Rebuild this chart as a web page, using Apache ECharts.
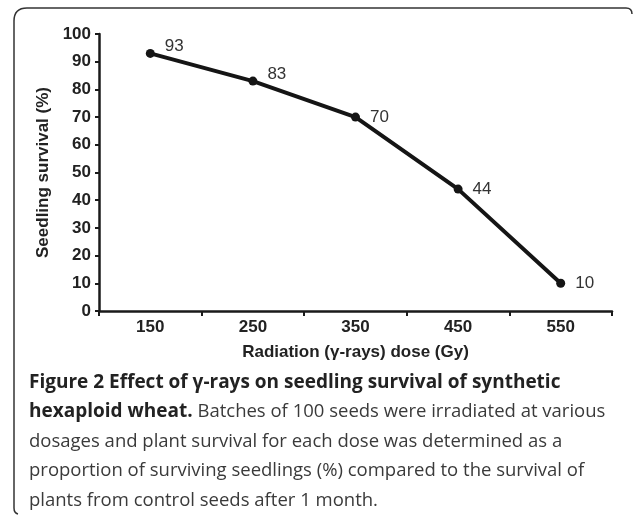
<!DOCTYPE html>
<html>
<head>
<meta charset="utf-8">
<script src="https://cdn.jsdelivr.net/npm/echarts@6/dist/echarts.min.js"></script>
<style>
  html, body { margin: 0; padding: 0; background: #fff; }
  #chart { width: 633px; height: 516px; }
</style>
</head>
<body>
<div id="chart"></div>
<script>
// dose categories and survival values
var doses = ['150', '250', '350', '450', '550'];
var survival = [93, 83, 70, 44, 10];
var yTicks = { min: 0, max: 100, interval: 10 };

var captionLines = [
    '{b|Figure 2 Effect of γ-rays on seedling survival of synthetic}',
    '{b|hexaploid wheat.} Batches of 100 seeds were irradiated at various',
    'dosages and plant survival for each dose was determined as a',
    'proportion of surviving seedlings (%) compared to the survival of',
    'plants from control seeds after 1 month.'
];

var myChart = echarts.init(document.getElementById('chart'));

// first two labels sit a little above the line
var seriesData = survival.map(function (v, i) {
    return {
        value: v,
        label: { offset: i < 2 ? [0, -7] : [0, 0] }
    };
});

var captionGraphics = captionLines.map(function (line, i) {
    return {
        type: 'text',
        left: 29,
        top: 373 + i * 29.5,
        style: {
            text: line,
            font: '18.5px "Open Sans"',
            fill: '#3a3a3a',
            rich: {
                b: {
                    fontFamily: 'Open Sans',
                    fontSize: 19,
                    fontWeight: 'bold',
                    fill: '#222'
                }
            }
        }
    };
});

// frame round the figure: top and left edges with rounded corners
var frameStyle = { fill: 'none', stroke: '#333', lineWidth: 1.5 };
var frame = [
    { type: 'line', shape: { x1: 27, y1: 8, x2: 626, y2: 8 }, style: frameStyle },
    { type: 'line', shape: { x1: 14, y1: 21, x2: 14, y2: 508 }, style: frameStyle },
    { type: 'bezierCurve', shape: { x1: 14, y1: 21, cpx1: 14, cpy1: 8, x2: 27, y2: 8 }, style: frameStyle },
    { type: 'bezierCurve', shape: { x1: 626, y1: 8, cpx1: 632, cpy1: 8, x2: 632, y2: 14 }, style: frameStyle },
    { type: 'bezierCurve', shape: { x1: 14, y1: 508, cpx1: 14, cpy1: 513, x2: 18, y2: 514 }, style: frameStyle }
];

var option = {
    animation: false,
    grid: {
        left: 99,
        right: 21,
        top: 34,
        bottom: 205
    },
    xAxis: {
        type: 'category',
        data: doses,
        name: 'Radiation (γ-rays) dose (Gy)',
        nameLocation: 'middle',
        nameGap: 33,
        nameTextStyle: {
            fontFamily: 'Liberation Sans',
            fontWeight: 'bold',
            fontSize: 17,
            color: '#222'
        },
        axisLine: { lineStyle: { color: '#1a1a1a', width: 2.5 } },
        axisTick: { show: true, length: 5, lineStyle: { color: '#1a1a1a', width: 2 } },
        axisLabel: {
            margin: 8,
            fontFamily: 'Liberation Sans',
            fontWeight: 'bold',
            fontSize: 17,
            color: '#222'
        },
        splitLine: { show: false }
    },
    yAxis: {
        type: 'value',
        min: yTicks.min,
        max: yTicks.max,
        interval: yTicks.interval,
        name: 'Seedling survival (%)',
        nameLocation: 'middle',
        nameGap: 45,
        nameTextStyle: {
            fontFamily: 'Liberation Sans',
            fontWeight: 'bold',
            fontSize: 17,
            color: '#222'
        },
        axisLine: { show: true, lineStyle: { color: '#1a1a1a', width: 2.5 } },
        axisTick: { show: true, length: 4, lineStyle: { color: '#1a1a1a', width: 2 } },
        axisLabel: {
            margin: 8,
            fontFamily: 'Liberation Sans',
            fontWeight: 'bold',
            fontSize: 17,
            color: '#222'
        },
        splitLine: { show: false }
    },
    series: [{
        type: 'line',
        data: seriesData,
        symbol: 'circle',
        symbolSize: 9,
        lineStyle: { color: '#151515', width: 4 },
        itemStyle: { color: '#151515' },
        label: {
            show: true,
            position: 'right',
            distance: 10,
            fontFamily: 'Liberation Sans',
            fontSize: 17,
            color: '#333'
        }
    }],
    graphic: frame.concat(captionGraphics)
};

myChart.setOption(option);
</script>
</body>
</html>
